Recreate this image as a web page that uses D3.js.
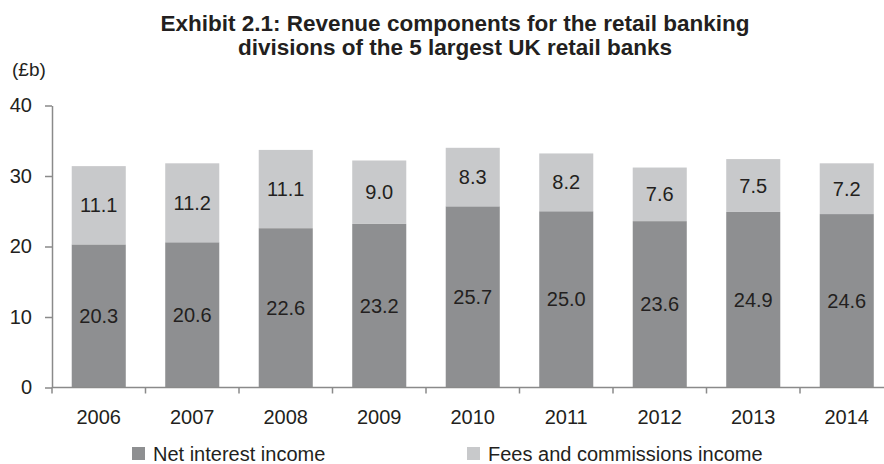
<!DOCTYPE html>
<html>
<head>
<meta charset="utf-8">
<script src="https://cdn.jsdelivr.net/npm/d3@7"></script>
<style>
  html, body { margin: 0; padding: 0; background: #fff; }
  svg { display: block; font-family: "Liberation Sans", Arial, Helvetica, sans-serif; }
</style>
</head>
<body>
<svg id="chart" width="884" height="464"></svg>
<script>
const years = ["2006", "2007", "2008", "2009", "2010", "2011", "2012", "2013", "2014"];
const netInterest = [20.3, 20.6, 22.6, 23.2, 25.7, 25.0, 23.6, 24.9, 24.6];
const feesCommissions = [11.1, 11.2, 11.1, 9.0, 8.3, 8.2, 7.6, 7.5, 7.2];
const yTicks = [0, 10, 20, 30, 40];
const seriesNames = ["Net interest income", "Fees and commissions income"];
const titleLines = [
  "Exhibit 2.1: Revenue components for the retail banking",
  "divisions of the 5 largest UK retail banks"
];
const unitLabel = "(£b)";

const colors = ["#8e8f91", "#c8c9cb"];
const textColor = "#231f20";
const axisColor = "#8a8a8a";

const svg = d3.select("#chart");

const x = d3.scaleBand().domain(years).range([52, 893.5]).paddingInner(0).paddingOuter(0);
const y = d3.scaleLinear().domain([0, 40]).range([387.5, 105.5]);
const barW = x.bandwidth() * 0.578;

// Title, two centred bold lines
svg.append("g").selectAll("text").data(titleLines).join("text")
  .attr("x", 455)
  .attr("y", (d, i) => 31 + i * 24)
  .attr("text-anchor", "middle")
  .attr("font-size", 22.5)
  .attr("font-weight", "bold")
  .attr("fill", textColor)
  .text(d => d);

// Unit label above the value axis
svg.append("text")
  .attr("x", 12).attr("y", 76)
  .attr("font-size", 19)
  .attr("fill", textColor)
  .text(unitLabel);

// Stacked bars: net interest at the bottom, fees on top
const rows = years.map((yr, i) => ({ year: yr, net: netInterest[i], fees: feesCommissions[i] }));
const stack = d3.stack().keys(["net", "fees"])(rows);

const barG = svg.append("g");
stack.forEach((layer, li) => {
  const g = barG.append("g");
  g.selectAll("rect").data(layer).join("rect")
    .attr("x", d => x(d.data.year) + (x.bandwidth() - barW) / 2)
    .attr("y", d => y(d[1]))
    .attr("width", barW)
    .attr("height", d => y(d[0]) - y(d[1]))
    .attr("fill", colors[li]);
  g.selectAll("text").data(layer).join("text")
    .attr("x", d => x(d.data.year) + x.bandwidth() / 2)
    .attr("y", d => (y(d[0]) + y(d[1])) / 2)
    .attr("dy", "0.35em")
    .attr("text-anchor", "middle")
    .attr("font-size", 20)
    .attr("fill", textColor)
    .text(d => (d[1] - d[0]).toFixed(1));
});

// Y axis
const yAxis = svg.append("g")
  .attr("transform", "translate(52,0)")
  .call(d3.axisLeft(y).tickValues(yTicks).tickSize(7).tickPadding(13).tickSizeOuter(0).tickFormat(d3.format("d")));
yAxis.select(".domain").attr("stroke", axisColor).attr("stroke-width", 1.5);
yAxis.selectAll(".tick line").attr("stroke", axisColor).attr("stroke-width", 1.5);
yAxis.selectAll(".tick text").attr("font-size", 20).attr("fill", textColor)
  .attr("font-family", "Liberation Sans, Arial, sans-serif");

// X axis with ticks at the category boundaries
const xAxisG = svg.append("g").attr("transform", `translate(0,${y(0)})`);
xAxisG.append("line")
  .attr("x1", 52).attr("x2", 893.5)
  .attr("stroke", axisColor).attr("stroke-width", 1.5);
xAxisG.selectAll("line.bound").data(years).join("line")
  .attr("class", "bound")
  .attr("x1", d => x(d)).attr("x2", d => x(d))
  .attr("y1", 0).attr("y2", 6)
  .attr("stroke", axisColor).attr("stroke-width", 1.5);
xAxisG.selectAll("text").data(years).join("text")
  .attr("x", d => x(d) + x.bandwidth() / 2)
  .attr("y", 36)
  .attr("text-anchor", "middle")
  .attr("font-size", 20)
  .attr("fill", textColor)
  .text(d => d);

// Legend
const legendX = [132, 467];
const legend = svg.append("g").selectAll("g").data(seriesNames).join("g")
  .attr("transform", (d, i) => `translate(${legendX[i]},447)`);
legend.append("rect").attr("width", 13).attr("height", 13).attr("fill", (d, i) => colors[i]);
legend.append("text")
  .attr("x", 21).attr("y", 14)
  .attr("font-size", 20)
  .attr("fill", textColor)
  .text(d => d);
</script>
</body>
</html>
